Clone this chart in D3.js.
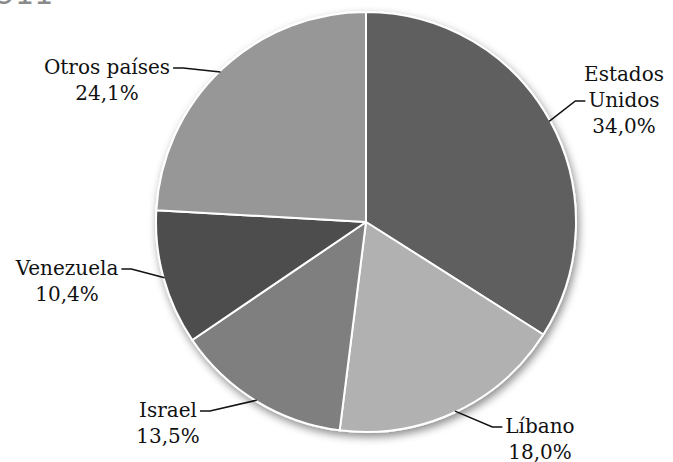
<!DOCTYPE html>
<html>
<head>
<meta charset="utf-8">
<script src="https://cdn.jsdelivr.net/npm/d3@7"></script>
<style>
  body { margin: 0; background: #fff; }
  svg { display: block; }
  text { font-family: "DejaVu Serif", serif; fill: #111; }
</style>
</head>
<body>
<div id="wrapper"></div>
<script>
var width = 673;
var height = 462;

// data
var countries = ["Estados Unidos", "Líbano", "Israel", "Venezuela", "Otros países"];
var shares = [34.0, 18.0, 13.5, 10.4, 24.1];
var shareLabels = ["34,0%", "18,0%", "13,5%", "10,4%", "24,1%"];
var labelLines = [["Estados", "Unidos"], ["Líbano"], ["Israel"], ["Venezuela"], ["Otros países"]];

// layout / styles
var fills = ["#5f5f5f", "#b1b1b1", "#7f7f7f", "#4e4e4e", "#979797"];
var center = [366, 222];
var radius = 210;
// label anchor (text centre x, first baseline y)
var labelPos = [
  { x: 624, y: 81, side: "right" },
  { x: 540, y: 433, side: "right" },
  { x: 168, y: 417, side: "left" },
  { x: 67, y: 275, side: "left" },
  { x: 107, y: 74, side: "left" }
];
// where the leader touches the pie (null = middle of the slice)
var leaderAngle = [null, null, null, null, -0.77];
var lineGap = 26;

var svg = d3.select("#wrapper").append("svg")
  .attr("width", width)
  .attr("height", height);

var defs = svg.append("defs");
var filter = defs.append("filter").attr("id", "shadow")
  .attr("x", "-20%").attr("y", "-20%").attr("width", "140%").attr("height", "140%");
filter.append("feDropShadow")
  .attr("dx", 2).attr("dy", 4)
  .attr("stdDeviation", 4)
  .attr("flood-color", "#000")
  .attr("flood-opacity", 0.45);

// partly cut off text at top left
svg.append("text")
  .attr("x", -4)
  .attr("y", 4)
  .style("font-size", "30px")
  .style("fill", "#8a8a8a")
  .style("font-family", "DejaVu Sans, sans-serif")
  .text("911");

var pie = d3.pie().sort(null).value(function (d) { return d; });
var arcs = pie(shares);
var arc = d3.arc().innerRadius(0).outerRadius(radius);

var g = svg.append("g")
  .attr("transform", "translate(" + center[0] + "," + center[1] + ")");

g.append("g")
  .attr("filter", "url(#shadow)")
  .selectAll("path")
  .data(arcs)
  .enter()
  .append("path")
  .attr("d", arc)
  .attr("fill", function (d, i) { return fills[i]; })
  .attr("stroke", "#fff")
  .attr("stroke-width", 2)
  .attr("stroke-linejoin", "round");

// labels
arcs.forEach(function (d, i) {
  var lp = labelPos[i];
  var lines = labelLines[i].concat([shareLabels[i]]);
  var t = svg.append("text")
    .attr("text-anchor", "middle")
    .style("font-size", "20px");
  lines.forEach(function (s, j) {
    t.append("tspan")
      .attr("x", lp.x)
      .attr("y", lp.y + j * lineGap)
      .text(s);
  });

  // leader line goes to the line just above the percentage
  var row = lines.length - 2;
  var rowWidth = t.selectAll("tspan").nodes()[row].getComputedTextLength();
  var a = leaderAngle[i] != null ? leaderAngle[i] : (d.startAngle + d.endAngle) / 2;
  var px = center[0] + (radius - 1) * Math.sin(a);
  var py = center[1] - (radius - 1) * Math.cos(a);
  var ly = lp.y + row * lineGap - 6;
  var lx, elbow;
  if (lp.side == "right") {
    lx = lp.x - rowWidth / 2 - 3;
    elbow = lx - 10;
  } else {
    lx = lp.x + rowWidth / 2 + 3;
    elbow = lx + 10;
  }
  svg.append("path")
    .attr("d", d3.line()([[lx, ly], [elbow, ly], [px, py]]))
    .attr("fill", "none")
    .attr("stroke", "#111")
    .attr("stroke-width", 1.5);
});
</script>
</body>
</html>
